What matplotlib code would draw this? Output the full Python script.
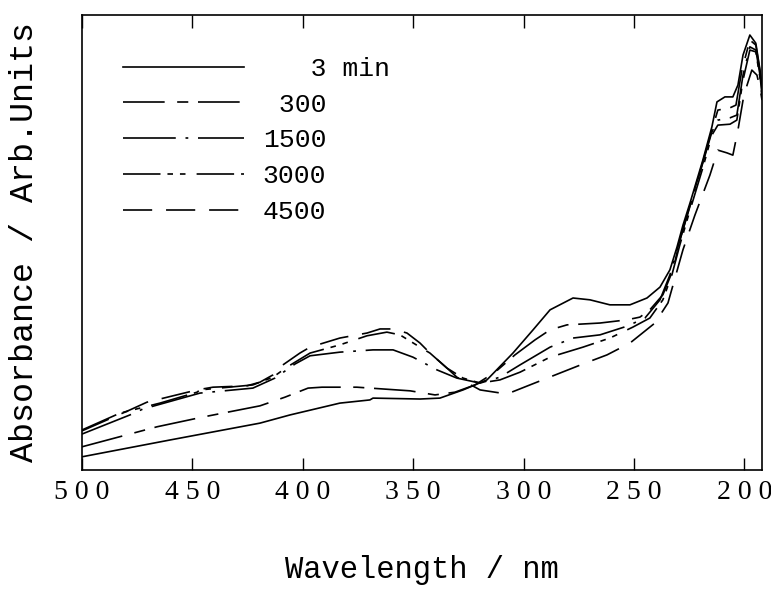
import matplotlib
matplotlib.use("Agg")
import matplotlib.pyplot as plt

# UV-vis spectra, values (arbitrary units)
wl_3 = [500.0, 460.1, 419.4, 405.8, 383.2, 369.6, 368.2, 346.9, 337.9, 327.4, 316.6, 304.8,
        295.7, 288.0, 277.6, 269.9, 260.9, 251.8, 244.1, 238.2, 233.7, 230.5, 227.8, 224.6,
        218.8, 214.7, 212.4, 208.8, 205.2, 202.9, 200.6, 197.5, 194.8, 192.9, 192.0]
abs_3 = [0.029, 0.066, 0.103, 0.121, 0.147, 0.154, 0.158, 0.156, 0.158, 0.176, 0.198, 0.257,
         0.308, 0.352, 0.378, 0.374, 0.363, 0.363, 0.378, 0.402, 0.440, 0.490, 0.538, 0.587,
         0.681, 0.754, 0.809, 0.820, 0.820, 0.846, 0.912, 0.956, 0.938, 0.879, 0.835]

wl_300 = [500.0, 466.0, 445.7, 419.4, 408.1, 397.6, 391.3, 375.5, 351.4, 340.1, 331.1, 322.0,
          312.9, 303.9, 294.8, 288.0, 280.3, 265.4, 253.2, 247.3, 242.8, 236.9, 232.3, 229.2,
          224.6, 218.8, 214.7, 212.0, 206.5, 203.8, 201.1, 197.5, 194.8, 192.9, 192.0]
abs_300 = [0.051, 0.095, 0.116, 0.141, 0.160, 0.180, 0.182, 0.182, 0.174, 0.165, 0.171, 0.187,
           0.215, 0.253, 0.286, 0.308, 0.319, 0.323, 0.330, 0.336, 0.352, 0.385, 0.440, 0.505,
           0.582, 0.677, 0.747, 0.791, 0.796, 0.802, 0.879, 0.945, 0.934, 0.875, 0.831]

wl_1500 = [500.0, 478.3, 472.4, 446.6, 422.6, 412.6, 403.5, 396.7, 383.2, 368.2, 359.1, 350.1,
           339.2, 330.2, 319.7, 310.7, 301.6, 288.0, 277.6, 265.4, 253.2, 245.0, 238.2, 233.7,
           229.2, 224.6, 218.8, 214.7, 212.0, 206.5, 203.4, 200.6, 197.5, 194.8, 192.9, 192.0]
abs_1500 = [0.079, 0.121, 0.134, 0.169, 0.180, 0.202, 0.233, 0.251, 0.259, 0.264, 0.264, 0.248,
            0.220, 0.202, 0.191, 0.204, 0.231, 0.270, 0.290, 0.297, 0.316, 0.334, 0.374, 0.429,
            0.505, 0.580, 0.675, 0.743, 0.769, 0.774, 0.780, 0.868, 0.930, 0.923, 0.868, 0.824]

wl_3000 = [500.0, 482.8, 464.7, 447.9, 446.6, 422.6, 413.5, 407.2, 396.7, 383.2, 370.9, 361.9,
           356.0, 346.9, 342.4, 334.7, 327.4, 319.7, 310.7, 301.6, 288.0, 273.1, 260.9, 250.5,
           242.8, 236.9, 232.8, 229.2, 224.6, 218.8, 214.7, 212.0, 206.5, 203.4, 200.6, 197.5,
           194.8, 192.9, 192.0]
abs_3000 = [0.088, 0.125, 0.147, 0.171, 0.176, 0.187, 0.204, 0.226, 0.257, 0.275, 0.295, 0.303,
            0.297, 0.270, 0.257, 0.224, 0.202, 0.191, 0.198, 0.215, 0.248, 0.270, 0.290, 0.314,
            0.334, 0.374, 0.429, 0.495, 0.571, 0.664, 0.736, 0.758, 0.760, 0.769, 0.857, 0.923,
            0.919, 0.862, 0.820]

wl_4500 = [500.0, 478.3, 470.6, 447.9, 440.7, 425.3, 419.4, 413.5, 409.0, 401.3, 396.7, 383.2,
           370.9, 365.0, 359.1, 352.8, 346.9, 342.4, 334.7, 330.2, 319.7, 307.5, 297.1, 273.1,
           262.2, 251.8, 240.5, 234.6, 231.0, 227.8, 222.4, 215.6, 212.0, 207.9, 205.2, 202.9,
           200.2, 196.6, 194.3, 192.9, 192.0]
abs_4500 = [0.086, 0.132, 0.149, 0.176, 0.182, 0.185, 0.193, 0.209, 0.231, 0.257, 0.270, 0.290,
            0.301, 0.310, 0.310, 0.301, 0.279, 0.257, 0.224, 0.204, 0.176, 0.167, 0.187, 0.233,
            0.253, 0.279, 0.323, 0.367, 0.429, 0.484, 0.560, 0.648, 0.703, 0.697, 0.692, 0.747,
            0.824, 0.879, 0.868, 0.840, 0.813]

labels = ["   3 min", " 300", "1500", "3000", "4500"]
xticks = [500, 450, 400, 350, 300, 250, 200]
xtick_labels = ["5 0 0", "4 5 0", "4 0 0", "3 5 0", "3 0 0", "2 5 0", "2 0 0"]

plt.rcParams["lines.scale_dashes"] = False
mono = "Liberation Mono"

fig = plt.figure(figsize=(7.71, 5.89), dpi=100)
ax = fig.add_axes([82 / 771, 119 / 589, 680 / 771, 455 / 589])

lw = 1.2
ax.plot(wl_3, abs_3, color="black", lw=lw, label=labels[0])
ax.plot(wl_300, abs_300, color="black", lw=lw, dashes=(30, 9, 8, 7), label=labels[1])
ax.plot(wl_1500, abs_1500, color="black", lw=lw, dashes=(38, 7, 2, 7), label=labels[2])
ax.plot(wl_3000, abs_3000, color="black", lw=lw, dashes=(27, 5, 4, 5, 4, 8), label=labels[3])
ax.plot(wl_4500, abs_4500, color="black", lw=lw, dashes=(21, 10), label=labels[4])

ax.set_xlim(500, 192)
ax.set_ylim(0, 1)
ax.set_yticks([])
ax.set_xticks(xticks)
ax.set_xticklabels(xtick_labels, fontfamily="Liberation Serif", fontsize=20)
ax.tick_params(axis="x", direction="in", top=True, length=9, width=1, pad=7)
for s in ax.spines.values():
    s.set_linewidth(1.2)

ax.set_xlabel("Wavelength / nm", fontfamily=mono, fontsize=22, labelpad=36)
ax.set_ylabel("Absorbance / Arb.Units", fontfamily=mono, fontsize=24, labelpad=30)

leg = ax.legend(loc="upper left", bbox_to_anchor=(0.06, 0.908), frameon=False,
                prop={"family": mono, "size": 19}, handlelength=4.6, handletextpad=0.7,
                labelspacing=0.445, borderpad=0, borderaxespad=0)

fig.savefig("out.png", dpi=100)
